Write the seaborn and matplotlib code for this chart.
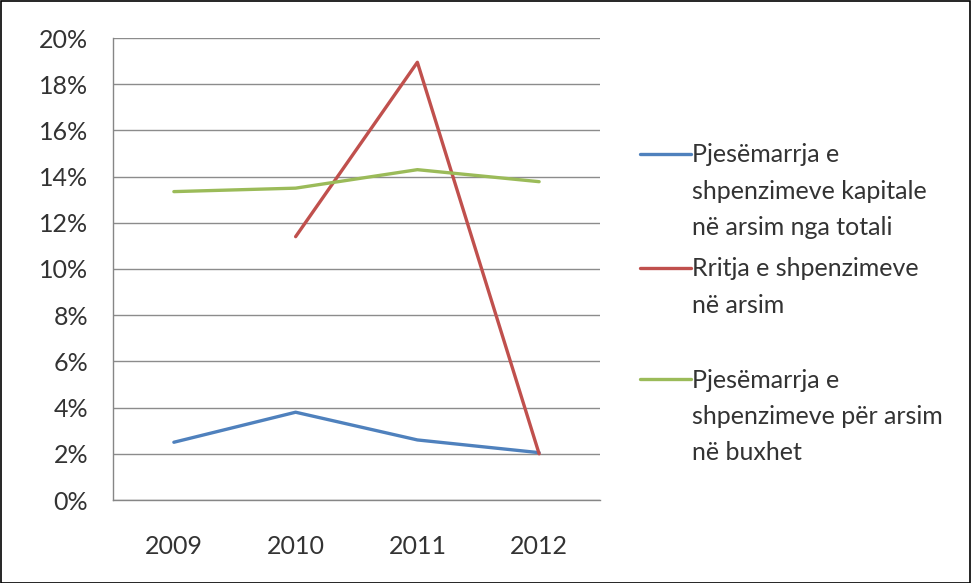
import matplotlib
matplotlib.use("Agg")
import matplotlib.pyplot as plt
from matplotlib.lines import Line2D
from matplotlib.patches import Rectangle
from matplotlib.ticker import PercentFormatter, FixedLocator, NullFormatter
import seaborn as sns
import numpy as np
import pandas as pd

years = [2009, 2010, 2011, 2012]
kapitale = [2.5, 3.8, 2.6, 2.05]
rritja = [np.nan, 11.4, 18.95, 2.0]
buxhet = [13.35, 13.5, 14.3, 13.78]
labels = [
    "Pjesëmarrja e\nshpenzimeve kapitale\nnë arsim nga totali",
    "Rritja e shpenzimeve\nnë arsim",
    "Pjesëmarrja e\nshpenzimeve për arsim\nnë buxhet",
]
colors = ["#4F81BD", "#C0504D", "#9BBB59"]
yticks = [0, 2, 4, 6, 8, 10, 12, 14, 16, 18, 20]

df = pd.concat([
    pd.DataFrame({"year": years, "value": vals, "series": lab})
    for vals, lab in zip([kapitale, rritja, buxhet], labels)
], ignore_index=True)

sns.set_theme(style="white")
plt.rcParams["font.family"] = ["Lato", "DejaVu Sans"]

fig = plt.figure(figsize=(9.71, 5.83), dpi=100)
ax = fig.add_axes([113/971, 83/583, (600-113)/971, (500-38)/583])

sns.lineplot(data=df, x="year", y="value", hue="series", hue_order=labels,
             palette=colors, linewidth=2.4, ax=ax, legend=False, sort=False)

ax.set_xlim(2008.5, 2012.5)
ax.set_ylim(0, 20)
ax.set_yticks(yticks)
ax.yaxis.set_major_formatter(PercentFormatter(decimals=0))
ax.set_xticks(years)
ax.set_xticklabels([str(y) for y in years])
ax.xaxis.set_minor_locator(FixedLocator([2008.5, 2009.5, 2010.5, 2011.5, 2012.5]))
ax.xaxis.set_minor_formatter(NullFormatter())
ax.tick_params(axis="x", which="major", length=0, pad=25, labelsize=18, labelcolor="#333333")
ax.tick_params(axis="x", which="minor", length=5, width=1, color="#868686", direction="out")
ax.tick_params(axis="y", which="major", length=5, width=1, color="#868686", direction="out",
               pad=13, labelsize=18, labelcolor="#333333")
ax.set_xlabel("")
ax.set_ylabel("")
ax.grid(axis="y", color="#8C8C8C", linewidth=1.0)
ax.set_axisbelow(True)
for s in ["top", "right"]:
    ax.spines[s].set_visible(False)
for s in ["left", "bottom"]:
    ax.spines[s].set_color("#868686")
    ax.spines[s].set_linewidth(1.0)

# manual legend (handle aligned with first text line)
leg_lines = [154, 268, 379]
for lab, col, yl in zip(labels, colors, leg_lines):
    yf = 1 - yl / 583
    fig.add_artist(Line2D([640/971, 691/971], [yf, yf], color=col, linewidth=2.4,
                          transform=fig.transFigure))
    fig.text(692/971, 1 - (yl - 10.5) / 583, lab, ha="left", va="top",
             fontsize=18, color="#333333", linespacing=1.7)

fig.add_artist(Rectangle((0.5/971, 0.5/583), 969.5/971, 581.5/583, fill=False,
                         edgecolor="black", linewidth=1.2, transform=fig.transFigure))

fig.savefig("out.png", dpi=100)
